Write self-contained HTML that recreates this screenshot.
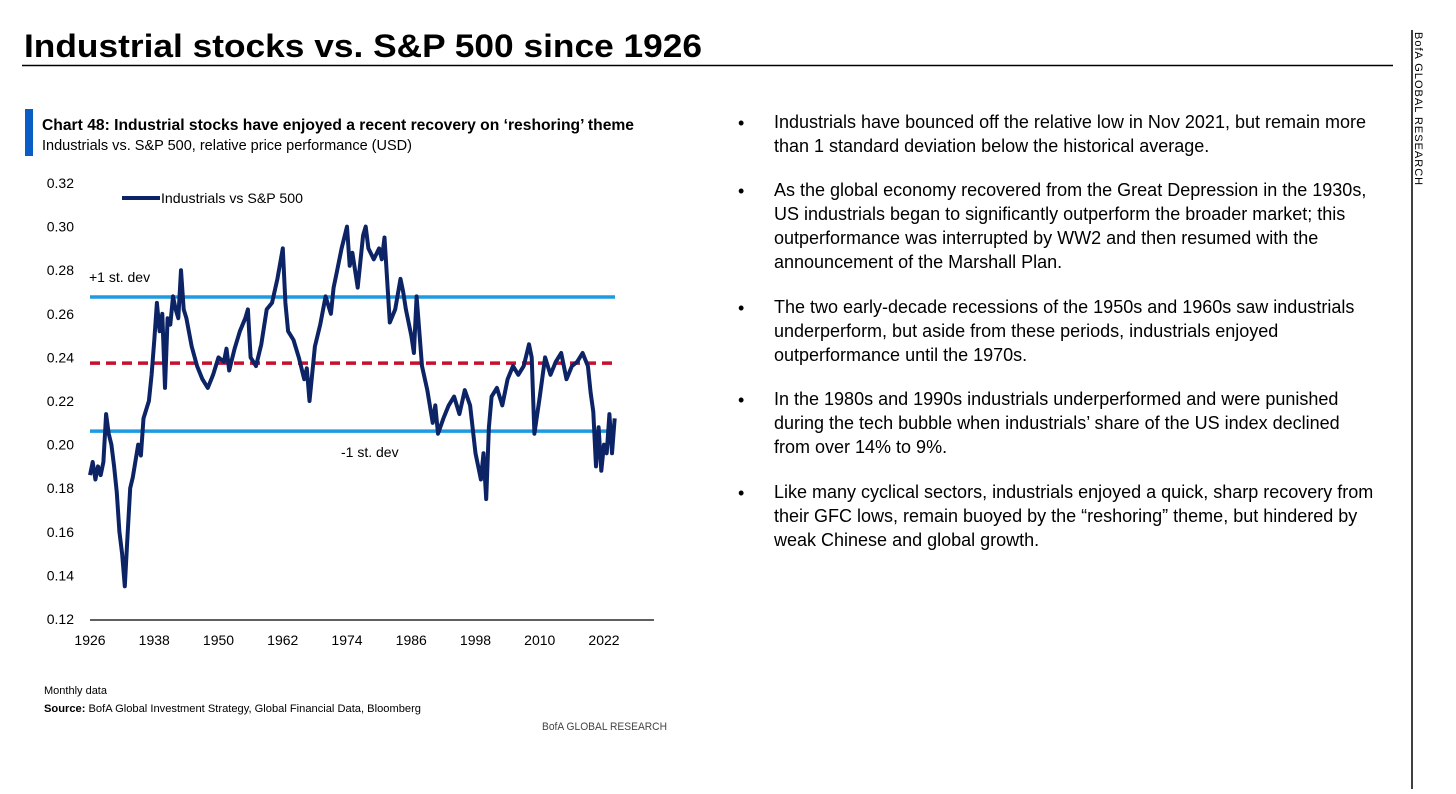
<!DOCTYPE html>
<html><head><meta charset="utf-8"><style>
body{margin:0;background:#fff;width:1456px;height:789px;overflow:hidden;font-family:"Liberation Sans",sans-serif}
svg text{font-family:"Liberation Sans",sans-serif}
</style></head><body>
<svg id="s" width="1456" height="789" viewBox="0 0 1456 789">
<text x="24" y="57" font-size="32" font-weight="bold" fill="#000" textLength="678" lengthAdjust="spacingAndGlyphs">Industrial stocks vs. S&amp;P 500 since 1926</text>
<line x1="22" y1="65.5" x2="1393" y2="65.5" stroke="#000" stroke-width="1.5"/>
<line x1="1412" y1="30" x2="1412" y2="789" stroke="#000" stroke-width="1.5"/>
<text transform="translate(1415,32) rotate(90)" font-size="11" fill="#000" letter-spacing="1">BofA GLOBAL RESEARCH</text>
<rect x="25" y="109" width="8" height="47" fill="#0a5dc2"/>
<text x="42" y="130" font-size="16" font-weight="bold" textLength="592" lengthAdjust="spacingAndGlyphs">Chart 48: Industrial stocks have enjoyed a recent recovery on ‘reshoring’ theme</text>
<text x="42" y="150" font-size="15" textLength="370" lengthAdjust="spacingAndGlyphs">Industrials vs. S&amp;P 500, relative price performance (USD)</text>
<g id="chart"></g>
<text x="44" y="694" font-size="11">Monthly data</text>
<text x="44" y="712" font-size="11" textLength="377" lengthAdjust="spacingAndGlyphs"><tspan font-weight="bold">Source:</tspan>  BofA Global Investment Strategy, Global Financial Data, Bloomberg</text>
<text x="542" y="730" font-size="11" fill="#444" textLength="125" lengthAdjust="spacingAndGlyphs">BofA GLOBAL RESEARCH</text>
<g font-size="18" fill="#000">
<g><text x="738" y="129">•</text><text x="774" y="128">Industrials have bounced off the relative low in Nov 2021, but remain more</text><text x="774" y="152">than 1 standard deviation below the historical average.</text></g>
<g><text x="738" y="197">•</text><text x="774" y="196">As the global economy recovered from the Great Depression in the 1930s,</text><text x="774" y="220">US industrials began to significantly outperform the broader market; this</text><text x="774" y="244">outperformance was interrupted by WW2 and then resumed with the</text><text x="774" y="268">announcement of the Marshall Plan.</text></g>
<g><text x="738" y="314">•</text><text x="774" y="313">The two early-decade recessions of the 1950s and 1960s saw industrials</text><text x="774" y="337">underperform, but aside from these periods, industrials enjoyed</text><text x="774" y="361">outperformance until the 1970s.</text></g>
<g><text x="738" y="406">•</text><text x="774" y="405">In the 1980s and 1990s industrials underperformed and were punished</text><text x="774" y="429">during the tech bubble when industrials’ share of the US index declined</text><text x="774" y="453">from over 14% to 9%.</text></g>
<g><text x="738" y="499">•</text><text x="774" y="498">Like many cyclical sectors, industrials enjoyed a quick, sharp recovery from</text><text x="774" y="522">their GFC lows, remain buoyed by the “reshoring” theme, but hindered by</text><text x="774" y="546">weak Chinese and global growth.</text></g>
</g>
</svg>
<script>
const years=[1926,1926.5,1927,1927.5,1928,1928.5,1929,1929.5,1930,1930.5,1931,1931.5,1932,1932.5,1933,1933.5,1934,1935,1935.5,1936,1937,1937.5,1938,1938.5,1939,1939.5,1940,1940.5,1941,1941.5,1942,1942.5,1943,1943.5,1944,1945,1946,1947,1948,1949,1950,1951,1951.5,1952,1953,1954,1955,1955.5,1956,1957,1958,1959,1960,1961,1962,1962.5,1963,1964,1965,1966,1966.5,1967,1968,1969,1970,1971,1971.5,1972,1973,1974,1974.5,1975,1976,1977,1977.5,1978,1979,1980,1980.5,1981,1982,1983,1984,1984.5,1985,1986,1986.5,1987,1988,1989,1990,1990.5,1991,1992,1993,1994,1995,1996,1997,1998,1998.5,1999,1999.5,2000,2000.5,2001,2002,2003,2004,2005,2006,2007,2008,2008.5,2009,2010,2011,2012,2013,2014,2015,2016,2017,2018,2019,2019.5,2020,2020.5,2021,2021.5,2022,2022.5,2023,2023.5,2024];
const values=[0.186,0.192,0.184,0.190,0.186,0.192,0.214,0.205,0.200,0.190,0.178,0.160,0.150,0.135,0.158,0.180,0.185,0.200,0.195,0.212,0.220,0.232,0.248,0.265,0.252,0.260,0.226,0.258,0.255,0.268,0.262,0.258,0.280,0.262,0.258,0.245,0.236,0.230,0.226,0.232,0.240,0.238,0.244,0.234,0.244,0.252,0.258,0.262,0.240,0.236,0.246,0.262,0.265,0.276,0.290,0.265,0.252,0.248,0.240,0.230,0.235,0.220,0.245,0.255,0.268,0.260,0.272,0.278,0.290,0.300,0.282,0.288,0.272,0.296,0.300,0.290,0.285,0.290,0.285,0.295,0.256,0.262,0.276,0.270,0.262,0.250,0.242,0.268,0.236,0.225,0.210,0.218,0.205,0.212,0.218,0.222,0.214,0.225,0.218,0.196,0.190,0.184,0.196,0.175,0.208,0.222,0.226,0.218,0.230,0.236,0.232,0.236,0.246,0.240,0.205,0.222,0.240,0.232,0.238,0.242,0.230,0.236,0.238,0.242,0.236,0.224,0.215,0.190,0.208,0.188,0.200,0.196,0.214,0.196,0.212,0.204];
const yTicks=[0.12,0.14,0.16,0.18,0.20,0.22,0.24,0.26,0.28,0.30,0.32];
const xTicks=[1926,1938,1950,1962,1974,1986,1998,2010,2022];
const refValues=[0.2677,0.2374,0.2062];
const refNames=['plus-1-stdev-line','mean-line','minus-1-stdev-line'];
const NS='http://www.w3.org/2000/svg';
const g=document.getElementById('chart');
const X=v=>90+(v-1926)*(514/96);
const Y=v=>619-(v-0.12)*2180;
function mk(t,a){const e=document.createElementNS(NS,t);for(const k in a)e.setAttribute(k,a[k]);g.appendChild(e);return e;}
yTicks.forEach(v=>{const t=mk('text',{x:74,y:Y(v)+5,'font-size':14,'text-anchor':'end',fill:'#000'});t.textContent=v.toFixed(2);

});
xTicks.forEach(v=>{const t=mk('text',{x:X(v),y:645,'font-size':14,'text-anchor':'middle',fill:'#000'});t.textContent=v;

});
const ax=mk('line',{x1:90,y1:620,x2:654,y2:620,stroke:'#000','stroke-width':1.2});


refValues.forEach((v,i)=>{const l=mk('line',{x1:90,x2:615,y1:Y(v),y2:Y(v),stroke:i==1?'#c8102e':'#1e9be0','stroke-width':3.5,'stroke-dasharray':i==1?'10,6':'none'});

});
const p=mk('path',{d:years.map((y,i)=>(i?'L':'M')+X(y).toFixed(1)+','+Y(values[i]).toFixed(1)).join(''),fill:'none',stroke:'#0c2466','stroke-width':4,'stroke-linejoin':'round'});


const ll=mk('line',{x1:122,x2:160,y1:198,y2:198,stroke:'#0c2466','stroke-width':4});


const lt=mk('text',{x:161,y:203,'font-size':14,textLength:142,lengthAdjust:'spacingAndGlyphs'});lt.textContent='Industrials vs  S&P 500';


const a1=mk('text',{x:89,y:282,'font-size':14});a1.textContent='+1 st. dev';


const a2=mk('text',{x:341,y:457,'font-size':14});a2.textContent='-1 st. dev';


</script>
</body></html>
